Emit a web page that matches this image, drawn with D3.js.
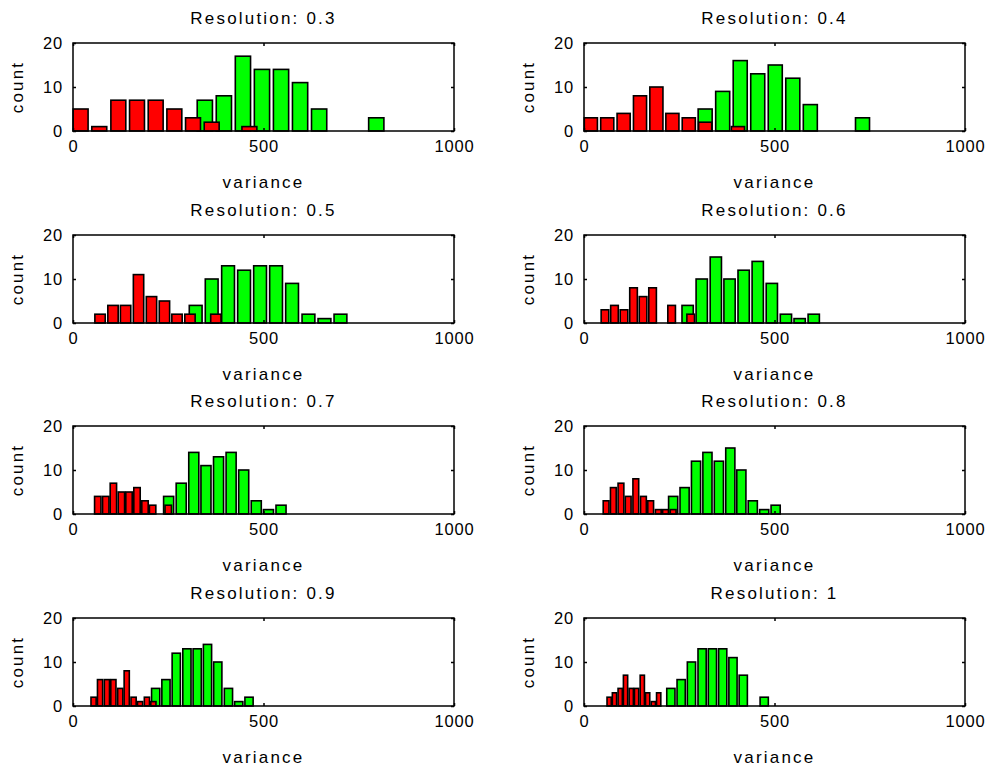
<!DOCTYPE html>
<html>
<head>
<meta charset="utf-8">
<script src="https://cdn.jsdelivr.net/npm/d3@7/dist/d3.min.js"></script>
<style>
  body { margin: 0; background: #fff; }
  text { font-family: "Liberation Sans", Arial, sans-serif; fill: #000; }
</style>
</head>
<body>
<svg id="chart" width="992" height="767"></svg>
<script>
// one entry per panel, in reading order
var resolutions = ["0.3", "0.4", "0.5", "0.6", "0.7", "0.8", "0.9", "1"]

var redCenters = [
  [20, 69, 119, 168, 217, 266, 315, 364, 413, 463],
  [18, 61, 104, 147, 190, 232, 275, 318, 361, 404],
  [71, 105, 138, 172, 206, 240, 273, 307, 341, 375],
  [55, 80, 105, 130, 155, 180, 205, 230, 255, 280],
  [65, 86, 106, 127, 147, 168, 189, 209, 230, 250],
  [58, 77, 97, 116, 136, 156, 175, 195, 214, 234],
  [54, 71, 89, 106, 124, 141, 159, 176, 194, 211],
  [66, 80, 95, 109, 124, 138, 153, 167, 182, 196]
]
var redCounts = [
  [5, 1, 7, 7, 7, 5, 3, 2, 0, 1],
  [3, 3, 4, 8, 10, 4, 3, 2, 0, 1],
  [2, 4, 4, 11, 6, 5, 2, 2, 0, 2],
  [3, 4, 3, 8, 6, 8, 0, 4, 0, 2],
  [4, 4, 7, 5, 5, 6, 3, 2, 0, 2],
  [3, 6, 7, 4, 8, 4, 3, 1, 1, 1],
  [2, 6, 6, 6, 4, 8, 2, 1, 2, 1],
  [2, 3, 4, 7, 4, 4, 7, 3, 1, 3]
]

var greenCenters = [
  [346, 396, 446, 496, 546, 596, 646, 696, 746, 796],
  [318, 364, 410, 456, 502, 548, 594, 640, 686, 731],
  [322, 364, 407, 449, 491, 533, 575, 618, 660, 702],
  [272, 309, 346, 382, 419, 456, 493, 530, 566, 603],
  [251, 284, 317, 349, 382, 415, 448, 481, 513, 546],
  [234, 264, 294, 324, 354, 384, 413, 443, 473, 503],
  [217, 244, 271, 299, 326, 353, 380, 408, 435, 462],
  [228, 255, 282, 310, 337, 364, 391, 418, 446, 473]
]
var greenCounts = [
  [7, 8, 17, 14, 14, 11, 5, 0, 0, 3],
  [5, 9, 16, 13, 15, 12, 6, 0, 0, 3],
  [4, 10, 13, 12, 13, 13, 9, 2, 1, 2],
  [4, 10, 15, 10, 12, 14, 9, 2, 1, 2],
  [4, 7, 14, 11, 13, 14, 10, 3, 1, 2],
  [4, 6, 12, 14, 12, 15, 10, 3, 1, 2],
  [4, 6, 12, 13, 13, 14, 10, 4, 1, 2],
  [4, 6, 10, 13, 13, 13, 11, 7, 0, 2]
]

var xTicks = [0, 500, 1000]
var yTicks = [0, 10, 20]

var redColor = "#ff0000"
var greenColor = "#00ff00"

var svg = d3.select("#chart")

var colX = [73, 584]
var rowY = [43, 235, 426, 618]
var width = 381, height = 88

var x = d3.scaleLinear().domain([0, 1000]).range([0, width])
var y = d3.scaleLinear().domain([0, 20]).range([height, 0])

function drawBars(g, centers, counts, color) {
  var bw = (x(centers[1]) - x(centers[0])) * 0.8
  var data = centers.map(function(c, i) { return {c: c, n: counts[i]} })
    .filter(function(d) { return d.n > 0 })
  g.selectAll(null)
      .data(data)
    .enter().append("rect")
      .attr("x", function(d) { return x(d.c) - bw / 2 })
      .attr("y", function(d) { return y(d.n) })
      .attr("width", bw)
      .attr("height", function(d) { return y(0) - y(d.n) })
      .attr("fill", color)
      .attr("stroke", "#000")
      .attr("stroke-width", 1.6)
}

function label(sel, size, ls) {
  sel.style("font-size", size)
    .style("letter-spacing", ls)
    .style("font-family", "'Liberation Sans', Arial, sans-serif")
    .attr("fill", "#000")
}

resolutions.forEach(function(res, i) {
  var g = svg.append("g")
    .attr("transform", "translate(" + colX[i % 2] + "," + rowY[Math.floor(i / 2)] + ")")

  drawBars(g, greenCenters[i], greenCounts[i], greenColor)
  drawBars(g, redCenters[i], redCounts[i], redColor)

  g.append("rect")
    .attr("width", width).attr("height", height)
    .attr("fill", "none").attr("stroke", "#000").attr("stroke-width", 1.5)

  // matlab style inward ticks on all four sides
  var xb = g.append("g").attr("transform", "translate(0," + height + ")")
    .call(d3.axisBottom(x).tickValues(xTicks).tickSize(-3).tickPadding(9).tickFormat(d3.format("d")))
  var xt = g.append("g")
    .call(d3.axisTop(x).tickValues(xTicks).tickSize(-3).tickFormat(""))
  var yl = g.append("g")
    .call(d3.axisLeft(y).tickValues(yTicks).tickSize(-3).tickPadding(10))
  var yr = g.append("g").attr("transform", "translate(" + width + ",0)")
    .call(d3.axisRight(y).tickValues(yTicks).tickSize(-3).tickFormat(""))

  ;[xb, xt, yl, yr].forEach(function(a) {
    a.select(".domain").remove()
    a.selectAll("line").attr("stroke", "#000").attr("stroke-width", 1.5)
    a.selectAll("text").call(label, "16.5px", "0.8px")
  })

  g.append("text")
    .attr("x", width / 2)
    .attr("y", -19)
    .attr("text-anchor", "middle")
    .call(label, "17px", "2.2px")
    .text("Resolution: " + res)

  g.append("text")
    .attr("x", width / 2)
    .attr("y", height + 57)
    .attr("text-anchor", "middle")
    .call(label, "17px", "2.2px")
    .text("variance")

  g.append("text")
    .attr("transform", "translate(-50," + (height / 2) + ") rotate(-90)")
    .attr("text-anchor", "middle")
    .call(label, "17px", "2.2px")
    .text("count")
})
</script>
</body>
</html>
